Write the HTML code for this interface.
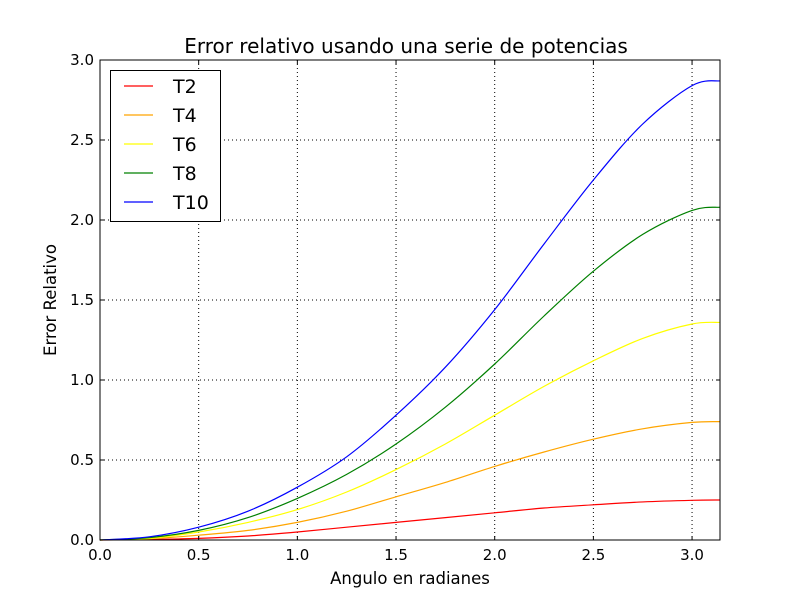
<!DOCTYPE html>
<html><head><meta charset="utf-8"><style>
body{margin:0;background:#fff}
svg{font-family:"DejaVu Sans","Liberation Sans",sans-serif}
</style></head><body>
<svg id="chart" width="800" height="600" viewBox="0 0 800 600" xmlns="http://www.w3.org/2000/svg">
<rect width="800" height="600" fill="#fff"/>
<text x="406" y="53" font-size="20" text-anchor="middle">Error relativo usando una serie de potencias</text>
<g id="grid"></g>
<g id="series"></g>
<rect x="100" y="60" width="620" height="480" fill="none" stroke="#000" stroke-width="1"/>
<g id="ticks"></g>
<text x="410" y="584" font-size="16.5" text-anchor="middle">Angulo en radianes</text>
<text transform="translate(56,300) rotate(-90)" font-size="16.5" text-anchor="middle">Error Relativo</text>
<g id="legend"></g>
</svg>
<script>
const xs = [0,0.25,0.5,0.75,1.0,1.25,1.5,1.75,2.0,2.25,2.5,2.75,3.0,3.14159];
const t2 = [0,0.003,0.01,0.025,0.05,0.08,0.11,0.14,0.17,0.2,0.22,0.238,0.248,0.25];
const t4 = [0,0.008,0.03,0.06,0.11,0.18,0.27,0.36,0.46,0.55,0.63,0.695,0.735,0.74];
const t6 = [0,0.01,0.05,0.11,0.19,0.3,0.44,0.6,0.78,0.96,1.12,1.26,1.35,1.36];
const t8 = [0,0.015,0.06,0.14,0.26,0.41,0.6,0.83,1.1,1.4,1.68,1.91,2.06,2.08];
const t10 = [0,0.02,0.08,0.18,0.33,0.52,0.78,1.08,1.44,1.85,2.25,2.6,2.84,2.87];
const seriesNames = ["T2","T4","T6","T8","T10"];
const seriesColors = ["#ff0000","#ffa500","#ffff00","#008000","#0000ff"];
const xTicks = [0,0.5,1.0,1.5,2.0,2.5,3.0];
const yTicks = [0,0.5,1.0,1.5,2.0,2.5,3.0];
const xTickLabels = ["0.0","0.5","1.0","1.5","2.0","2.5","3.0"];
const yTickLabels = ["0.0","0.5","1.0","1.5","2.0","2.5","3.0"];

const NS="http://www.w3.org/2000/svg";
const X0=100,X1=720,Y0=540,Y1=60,XMAX=Math.PI,YMAX=3;
const sx=v=>X0+v/XMAX*(X1-X0);
const sy=v=>Y0-v/YMAX*(Y0-Y1);
function mk(tag,parent,attrs){const e=document.createElementNS(NS,tag);for(const k in attrs)e.setAttribute(k,attrs[k]);parent.appendChild(e);return e;}
const grid=document.getElementById('grid'),ticks=document.getElementById('ticks'),ser=document.getElementById('series'),leg=document.getElementById('legend');
xTicks.forEach((v,i)=>{const x=sx(v);
 if(v>0&&v<XMAX){const g=mk('line',grid,{x1:x,x2:x,y1:Y1,y2:Y0,stroke:'#000','stroke-dasharray':'1,3','stroke-width':1});
 }
 const t=mk('line',ticks,{x1:x,x2:x,y1:Y0,y2:Y0-4,stroke:'#000'});
 const t2_=mk('line',ticks,{x1:x,x2:x,y1:Y1,y2:Y1+4,stroke:'#000'});
 const l=mk('text',ticks,{x:x,y:Y0+20,'font-size':15,'text-anchor':'middle'});l.textContent=xTickLabels[i];
 });
yTicks.forEach((v,i)=>{const y=sy(v);
 if(v>0&&v<YMAX){const g=mk('line',grid,{x1:X0,x2:X1,y1:y,y2:y,stroke:'#000','stroke-dasharray':'1,3','stroke-width':1});
 }
 const t=mk('line',ticks,{x1:X0,x2:X0+4,y1:y,y2:y,stroke:'#000'});
 const t2_=mk('line',ticks,{x1:X1,x2:X1-4,y1:y,y2:y,stroke:'#000'});
 const l=mk('text',ticks,{x:X0-6,y:y+5,'font-size':15,'text-anchor':'end'});l.textContent=yTickLabels[i];
 });
function pathFor(ys){const p=xs.map((x,i)=>[sx(x),sy(ys[i])]);let d='M'+p[0][0]+','+p[0][1];
 for(let i=0;i<p.length-1;i++){const a=p[Math.max(i-1,0)],b=p[i],c=p[i+1],e=p[Math.min(i+2,p.length-1)];
 const c1=[b[0]+(c[0]-a[0])/6,b[1]+(c[1]-a[1])/6],c2=[c[0]-(e[0]-b[0])/6,c[1]-(e[1]-b[1])/6];
 d+=' C'+c1[0]+','+c1[1]+' '+c2[0]+','+c2[1]+' '+c[0]+','+c[1];}return d;}
[t2,t4,t6,t8,t10].forEach((ys,i)=>{const p=mk('path',ser,{d:pathFor(ys),fill:'none',stroke:seriesColors[i],'stroke-width':1.2});
 });
const box=mk('rect',leg,{x:110.5,y:70.5,width:110,height:151,fill:'#fff',stroke:'#000'});

seriesNames.forEach((n,i)=>{const y=86+i*29;
 const ln=mk('line',leg,{x1:124,x2:153,y1:y,y2:y,stroke:seriesColors[i],'stroke-width':1.2});
 
 const t=mk('text',leg,{x:173,y:y+7,'font-size':19});t.textContent=n;
 });
</script>
</body></html>
